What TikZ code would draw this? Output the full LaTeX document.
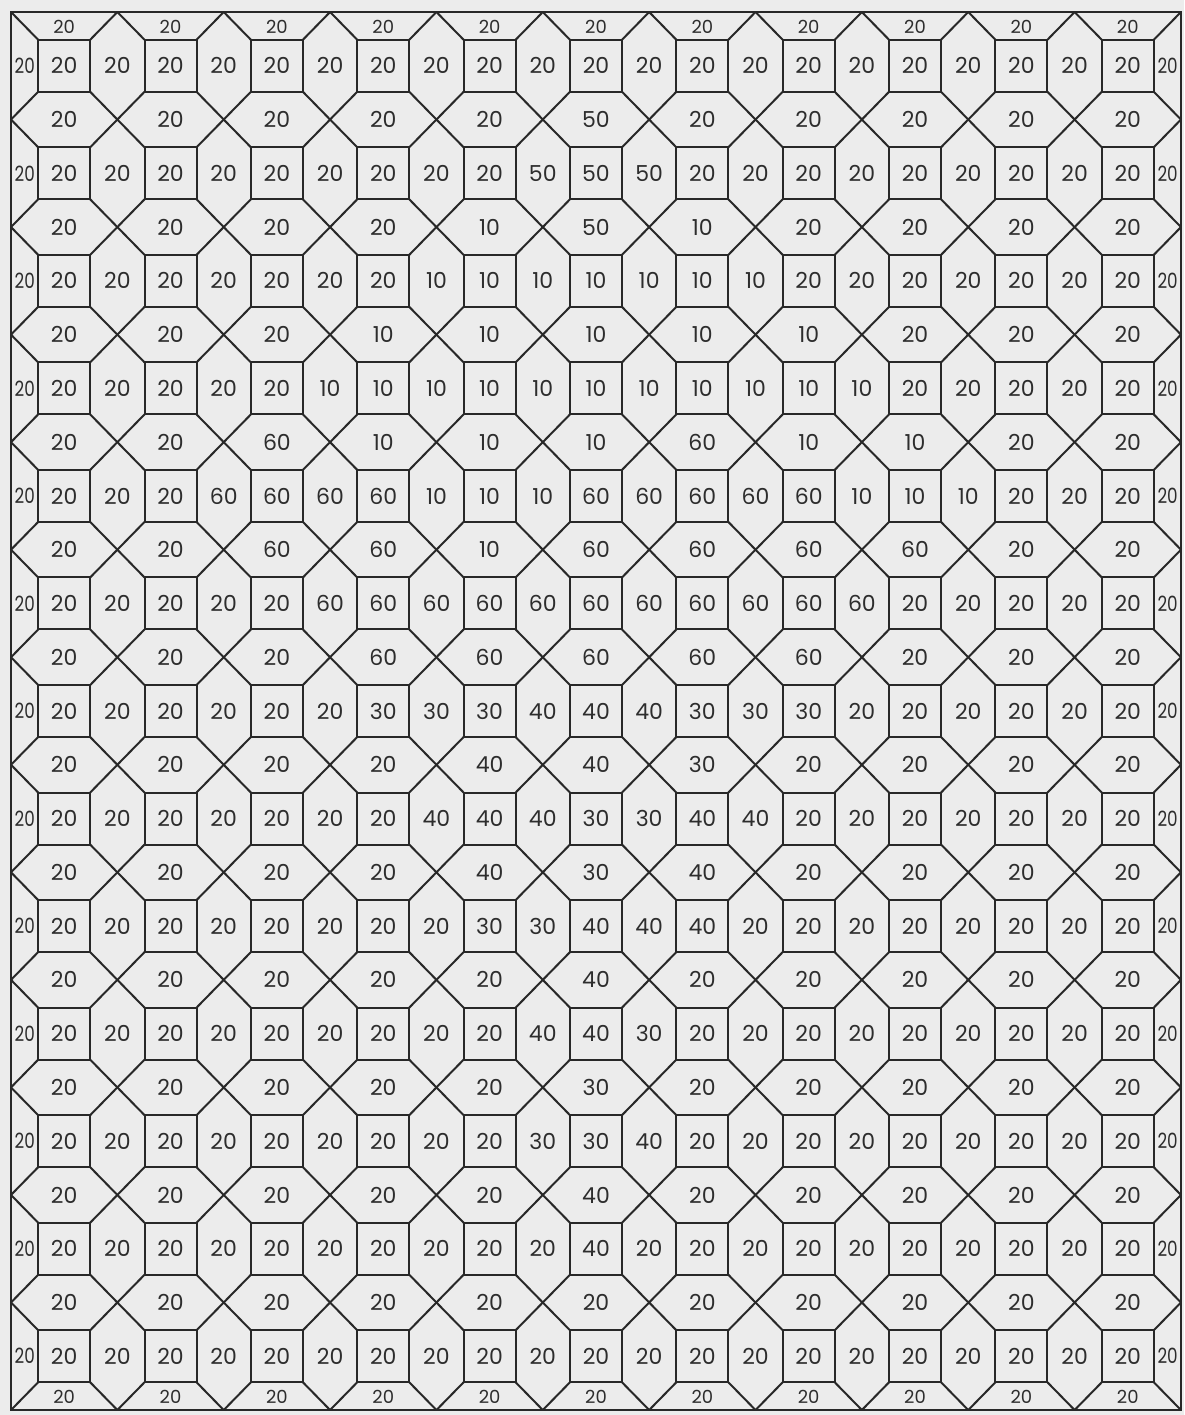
\documentclass[tikz,border=0pt]{standalone}
\usepackage{fontspec}
\setmainfont{Poppins}
\definecolor{bg}{RGB}{236,236,236}
\definecolor{ink}{RGB}{40,40,40}
\definecolor{txt}{RGB}{45,45,45}
\begin{document}
\begin{tikzpicture}[x=1pt,y=-1pt,
  sq/.style={draw=ink, line width=2pt, minimum width=52pt, minimum height=52pt, inner sep=0pt, outer sep=0pt, text=txt, font=\fontsize{22}{22}\selectfont},
  lab/.style={text=txt, inner sep=0pt, font=\fontsize{22}{22}\selectfont},
  slab/.style={text=txt, inner sep=0pt, font=\fontsize{18}{18}\selectfont},
  elab/.style={text=txt, inner sep=0pt, xscale=0.8, font=\fontsize{21}{21}\selectfont},
  ln/.style={draw=ink, line width=2pt, line cap=round}]
\def\px{106.36}
\def\py{107.54}
\def\xo{64.18}
\def\yo{65.77}
\fill[bg] (0,0) rectangle (1184,1415);
\useasboundingbox (0,0) rectangle (1184,1415);
% crossing points
\foreach \a in {0,...,11}{
  \foreach \b in {0,...,13}{
    \coordinate (x-\a-\b) at ({11+\px*\a},{12+\py*\b});
  }
}
\draw[ln] (x-0-0) rectangle (x-11-13);
% square rows
\foreach \row [count=\j from 0] in {
{20,20,20,20,20,20,20,20,20,20,20,20,20,20,20,20,20,20,20,20,20,20,20},
{20,20,20,20,20,20,20,20,20,20,50,50,50,20,20,20,20,20,20,20,20,20,20},
{20,20,20,20,20,20,20,20,10,10,10,10,10,10,10,20,20,20,20,20,20,20,20},
{20,20,20,20,20,20,10,10,10,10,10,10,10,10,10,10,10,20,20,20,20,20,20},
{20,20,20,20,60,60,60,60,10,10,10,60,60,60,60,60,10,10,10,20,20,20,20},
{20,20,20,20,20,20,60,60,60,60,60,60,60,60,60,60,60,20,20,20,20,20,20},
{20,20,20,20,20,20,20,30,30,30,40,40,40,30,30,30,20,20,20,20,20,20,20},
{20,20,20,20,20,20,20,20,40,40,40,30,30,40,40,20,20,20,20,20,20,20,20},
{20,20,20,20,20,20,20,20,20,30,30,40,40,40,20,20,20,20,20,20,20,20,20},
{20,20,20,20,20,20,20,20,20,20,40,40,30,20,20,20,20,20,20,20,20,20,20},
{20,20,20,20,20,20,20,20,20,20,30,30,40,20,20,20,20,20,20,20,20,20,20},
{20,20,20,20,20,20,20,20,20,20,20,40,20,20,20,20,20,20,20,20,20,20,20},
{20,20,20,20,20,20,20,20,20,20,20,20,20,20,20,20,20,20,20,20,20,20,20}}{
  \pgfmathsetmacro\yy{\yo+\py*\j}
  \foreach \v [count=\k from 0] in \row {
    \ifnum\k=0\relax
      \node[elab] (l-\j) at (24.8,\yy) {\v};
    \else\ifnum\k=22\relax
      \node[elab] (r-\j) at (1167.6,\yy) {\v};
    \else
      \pgfmathtruncatemacro\ii{(\k-1)/2}
      \pgfmathsetmacro\xx{\xo+\px*(\k-1)/2}
      \ifodd\k\relax
        \node[sq] (s-\ii-\j) at (\xx,\yy) {\v};
      \else
        \node[lab] (g-\ii-\j) at (\xx,\yy) {\v};
      \fi
    \fi\fi
  }
}
% hexagon rows
\foreach \row [count=\j from 0] in {
{20,20,20,20,20,20,20,20,20,20,20},
{20,20,20,20,20,50,20,20,20,20,20},
{20,20,20,20,10,50,10,20,20,20,20},
{20,20,20,10,10,10,10,10,20,20,20},
{20,20,60,10,10,10,60,10,10,20,20},
{20,20,60,60,10,60,60,60,60,20,20},
{20,20,20,60,60,60,60,60,20,20,20},
{20,20,20,20,40,40,30,20,20,20,20},
{20,20,20,20,40,30,40,20,20,20,20},
{20,20,20,20,20,40,20,20,20,20,20},
{20,20,20,20,20,30,20,20,20,20,20},
{20,20,20,20,20,40,20,20,20,20,20},
{20,20,20,20,20,20,20,20,20,20,20},
{20,20,20,20,20,20,20,20,20,20,20}}{
  \ifnum\j=0\relax
    \def\yy{26.5}\def\hst{slab}
  \else\ifnum\j=13\relax
    \def\yy{1396.5}\def\hst{slab}
  \else
    \pgfmathsetmacro\yy{\yo+\py*(\j-0.5)}\def\hst{lab}
  \fi\fi
  \foreach \v [count=\i from 0] in \row {
    \node[\hst] (h-\i-\j) at ({\xo+\px*\i},\yy) {\v};
  }
}
% diagonals from square corners to crossing points
\foreach \j in {0,...,12}{
  \foreach \i in {0,...,10}{
    \pgfmathtruncatemacro\ia{\i+1}
    \pgfmathtruncatemacro\jb{\j+1}
    \draw[ln] (s-\i-\j.north west) -- (x-\i-\j);
    \draw[ln] (s-\i-\j.north east) -- (x-\ia-\j);
    \draw[ln] (s-\i-\j.south west) -- (x-\i-\jb);
    \draw[ln] (s-\i-\j.south east) -- (x-\ia-\jb);
  }
}
\end{tikzpicture}
\end{document}
